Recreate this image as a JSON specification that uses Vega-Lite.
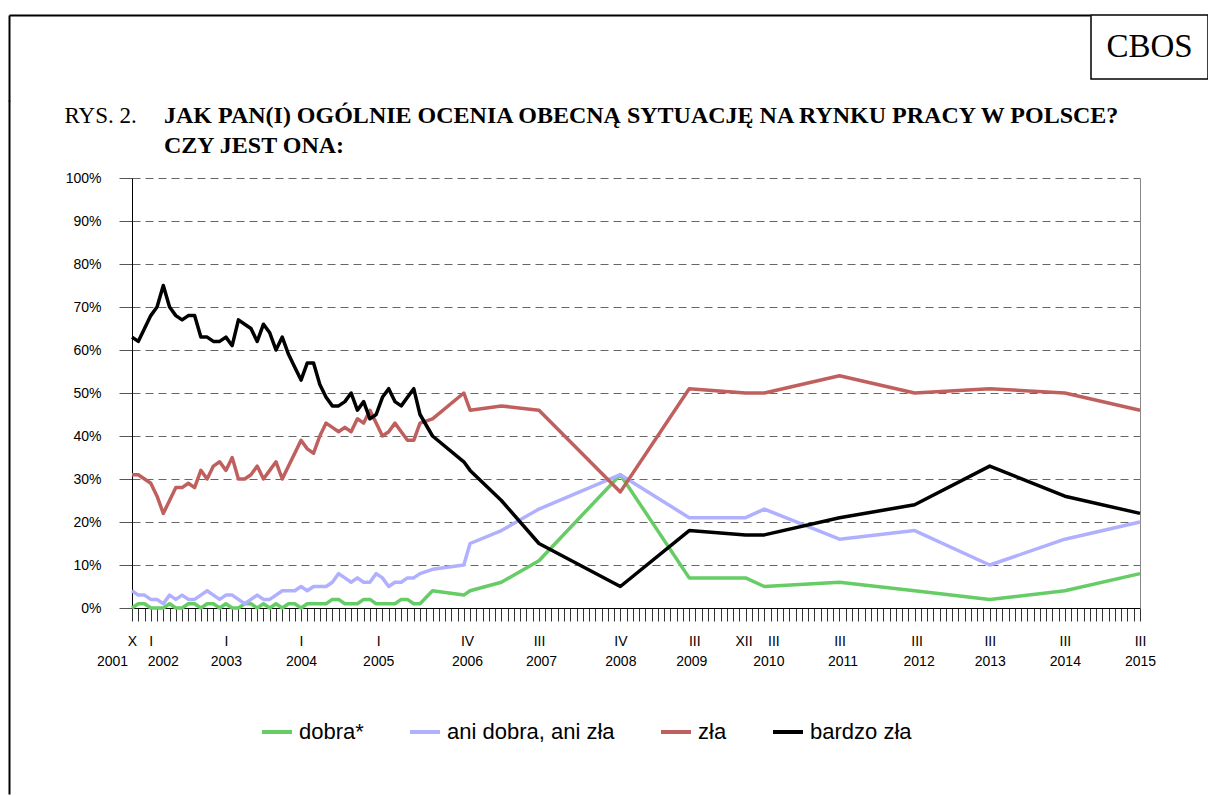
{
  "$schema": "https://vega.github.io/schema/vega-lite/v6.json",
  "padding": {"left": 6, "top": 14, "right": 0, "bottom": 0},
  "background": "white",
  "spacing": 0,
  "config": {
    "view": {"stroke": null},
    "font": "Liberation Sans",
    "axis": {"labelFont": "Liberation Sans", "labelFontSize": 14, "labelColor": "black", "minExtent": 0}
  },
  "vconcat": [
    {
      "spacing": 0,
      "hconcat": [
        {
          "width": 1081,
          "height": 86,
          "data": {"values": [{}]},
          "mark": {"type": "point", "opacity": 0},
          "encoding": {
            "x": {"datum": 0, "type": "quantitative", "scale": {"domain": [0, 1]},
              "axis": {"orient": "top", "domain": true, "domainColor": "black", "domainWidth": 2, "ticks": false, "labels": false, "grid": false, "title": null, "minExtent": 0}},
            "y": {"datum": 0, "type": "quantitative", "scale": {"domain": [0, 1]},
              "axis": {"orient": "left", "domain": true, "domainColor": "black", "domainWidth": 2, "ticks": false, "labels": false, "grid": false, "title": null, "minExtent": 0}}
          }
        },
        {
          "width": 117,
          "height": 64,
          "view": {"stroke": "black", "strokeWidth": 1.5},
          "data": {"values": [{"label": "CBOS"}]},
          "mark": {"type": "text", "font": "Liberation Serif", "fontSize": 33, "align": "center", "baseline": "middle", "color": "black"},
          "encoding": {"text": {"field": "label"}}
        }
      ]
    },
    {
      "spacing": 0,
      "hconcat": [
        {
          "width": 55,
          "height": 616,
          "data": {"values": [{}]},
          "mark": {"type": "point", "opacity": 0},
          "encoding": {
            "y": {"datum": 0, "type": "quantitative", "scale": {"domain": [0, 1], "range": [616, -78]},
              "axis": {"orient": "left", "domain": true, "domainColor": "black", "domainWidth": 2, "ticks": false, "labels": false, "grid": false, "title": null, "minExtent": 0}}
          }
        },
        {
          "width": 1008,
          "height": 430,
          "title": {
            "text": ["JAK PAN(I) OGÓLNIE OCENIA OBECNĄ SYTUACJĘ NA RYNKU PRACY W POLSCE?", "CZY JEST ONA:"],
            "anchor": "start",
            "frame": "group",
            "dx": 32,
            "offset": -54,
            "font": "Liberation Serif",
            "fontSize": 24,
            "fontWeight": "bold",
            "lineHeight": 30,
            "color": "black"
          },
          "data": {"values": [
            {"m":0,"series":"dobra*","pct":0},{"m":1,"series":"dobra*","pct":1},{"m":2,"series":"dobra*","pct":1},{"m":3,"series":"dobra*","pct":0},{"m":4,"series":"dobra*","pct":0},{"m":5,"series":"dobra*","pct":0},{"m":6,"series":"dobra*","pct":1},{"m":7,"series":"dobra*","pct":0},{"m":8,"series":"dobra*","pct":0},{"m":9,"series":"dobra*","pct":1},{"m":10,"series":"dobra*","pct":1},{"m":11,"series":"dobra*","pct":0},{"m":12,"series":"dobra*","pct":1},{"m":13,"series":"dobra*","pct":1},{"m":14,"series":"dobra*","pct":0},{"m":15,"series":"dobra*","pct":1},{"m":16,"series":"dobra*","pct":0},{"m":17,"series":"dobra*","pct":0},{"m":18,"series":"dobra*","pct":1},{"m":19,"series":"dobra*","pct":1},{"m":20,"series":"dobra*","pct":0},{"m":21,"series":"dobra*","pct":1},{"m":22,"series":"dobra*","pct":0},{"m":23,"series":"dobra*","pct":1},{"m":24,"series":"dobra*","pct":0},{"m":25,"series":"dobra*","pct":1},{"m":26,"series":"dobra*","pct":1},{"m":27,"series":"dobra*","pct":0},{"m":28,"series":"dobra*","pct":1},{"m":29,"series":"dobra*","pct":1},{"m":30,"series":"dobra*","pct":1},{"m":31,"series":"dobra*","pct":1},{"m":32,"series":"dobra*","pct":2},{"m":33,"series":"dobra*","pct":2},{"m":34,"series":"dobra*","pct":1},{"m":35,"series":"dobra*","pct":1},{"m":36,"series":"dobra*","pct":1},{"m":37,"series":"dobra*","pct":2},{"m":38,"series":"dobra*","pct":2},{"m":39,"series":"dobra*","pct":1},{"m":40,"series":"dobra*","pct":1},{"m":41,"series":"dobra*","pct":1},{"m":42,"series":"dobra*","pct":1},{"m":43,"series":"dobra*","pct":2},{"m":44,"series":"dobra*","pct":2},{"m":45,"series":"dobra*","pct":1},{"m":46,"series":"dobra*","pct":1},{"m":48,"series":"dobra*","pct":4},{"m":53,"series":"dobra*","pct":3},{"m":54,"series":"dobra*","pct":4},{"m":59,"series":"dobra*","pct":6},{"m":65,"series":"dobra*","pct":11},{"m":78,"series":"dobra*","pct":31},{"m":89,"series":"dobra*","pct":7},{"m":98,"series":"dobra*","pct":7},{"m":101,"series":"dobra*","pct":5},{"m":113,"series":"dobra*","pct":6},{"m":125,"series":"dobra*","pct":4},{"m":137,"series":"dobra*","pct":2},{"m":149,"series":"dobra*","pct":4},{"m":161,"series":"dobra*","pct":8},
            {"m":0,"series":"ani dobra, ani zła","pct":4},{"m":1,"series":"ani dobra, ani zła","pct":3},{"m":2,"series":"ani dobra, ani zła","pct":3},{"m":3,"series":"ani dobra, ani zła","pct":2},{"m":4,"series":"ani dobra, ani zła","pct":2},{"m":5,"series":"ani dobra, ani zła","pct":1},{"m":6,"series":"ani dobra, ani zła","pct":3},{"m":7,"series":"ani dobra, ani zła","pct":2},{"m":8,"series":"ani dobra, ani zła","pct":3},{"m":9,"series":"ani dobra, ani zła","pct":2},{"m":10,"series":"ani dobra, ani zła","pct":2},{"m":11,"series":"ani dobra, ani zła","pct":3},{"m":12,"series":"ani dobra, ani zła","pct":4},{"m":13,"series":"ani dobra, ani zła","pct":3},{"m":14,"series":"ani dobra, ani zła","pct":2},{"m":15,"series":"ani dobra, ani zła","pct":3},{"m":16,"series":"ani dobra, ani zła","pct":3},{"m":17,"series":"ani dobra, ani zła","pct":2},{"m":18,"series":"ani dobra, ani zła","pct":1},{"m":19,"series":"ani dobra, ani zła","pct":2},{"m":20,"series":"ani dobra, ani zła","pct":3},{"m":21,"series":"ani dobra, ani zła","pct":2},{"m":22,"series":"ani dobra, ani zła","pct":2},{"m":23,"series":"ani dobra, ani zła","pct":3},{"m":24,"series":"ani dobra, ani zła","pct":4},{"m":25,"series":"ani dobra, ani zła","pct":4},{"m":26,"series":"ani dobra, ani zła","pct":4},{"m":27,"series":"ani dobra, ani zła","pct":5},{"m":28,"series":"ani dobra, ani zła","pct":4},{"m":29,"series":"ani dobra, ani zła","pct":5},{"m":30,"series":"ani dobra, ani zła","pct":5},{"m":31,"series":"ani dobra, ani zła","pct":5},{"m":32,"series":"ani dobra, ani zła","pct":6},{"m":33,"series":"ani dobra, ani zła","pct":8},{"m":34,"series":"ani dobra, ani zła","pct":7},{"m":35,"series":"ani dobra, ani zła","pct":6},{"m":36,"series":"ani dobra, ani zła","pct":7},{"m":37,"series":"ani dobra, ani zła","pct":6},{"m":38,"series":"ani dobra, ani zła","pct":6},{"m":39,"series":"ani dobra, ani zła","pct":8},{"m":40,"series":"ani dobra, ani zła","pct":7},{"m":41,"series":"ani dobra, ani zła","pct":5},{"m":42,"series":"ani dobra, ani zła","pct":6},{"m":43,"series":"ani dobra, ani zła","pct":6},{"m":44,"series":"ani dobra, ani zła","pct":7},{"m":45,"series":"ani dobra, ani zła","pct":7},{"m":46,"series":"ani dobra, ani zła","pct":8},{"m":48,"series":"ani dobra, ani zła","pct":9},{"m":53,"series":"ani dobra, ani zła","pct":10},{"m":54,"series":"ani dobra, ani zła","pct":15},{"m":59,"series":"ani dobra, ani zła","pct":18},{"m":65,"series":"ani dobra, ani zła","pct":23},{"m":78,"series":"ani dobra, ani zła","pct":31},{"m":89,"series":"ani dobra, ani zła","pct":21},{"m":98,"series":"ani dobra, ani zła","pct":21},{"m":101,"series":"ani dobra, ani zła","pct":23},{"m":113,"series":"ani dobra, ani zła","pct":16},{"m":125,"series":"ani dobra, ani zła","pct":18},{"m":137,"series":"ani dobra, ani zła","pct":10},{"m":149,"series":"ani dobra, ani zła","pct":16},{"m":161,"series":"ani dobra, ani zła","pct":20},
            {"m":0,"series":"zła","pct":31},{"m":1,"series":"zła","pct":31},{"m":2,"series":"zła","pct":30},{"m":3,"series":"zła","pct":29},{"m":4,"series":"zła","pct":26},{"m":5,"series":"zła","pct":22},{"m":6,"series":"zła","pct":25},{"m":7,"series":"zła","pct":28},{"m":8,"series":"zła","pct":28},{"m":9,"series":"zła","pct":29},{"m":10,"series":"zła","pct":28},{"m":11,"series":"zła","pct":32},{"m":12,"series":"zła","pct":30},{"m":13,"series":"zła","pct":33},{"m":14,"series":"zła","pct":34},{"m":15,"series":"zła","pct":32},{"m":16,"series":"zła","pct":35},{"m":17,"series":"zła","pct":30},{"m":18,"series":"zła","pct":30},{"m":19,"series":"zła","pct":31},{"m":20,"series":"zła","pct":33},{"m":21,"series":"zła","pct":30},{"m":22,"series":"zła","pct":32},{"m":23,"series":"zła","pct":34},{"m":24,"series":"zła","pct":30},{"m":25,"series":"zła","pct":33},{"m":26,"series":"zła","pct":36},{"m":27,"series":"zła","pct":39},{"m":28,"series":"zła","pct":37},{"m":29,"series":"zła","pct":36},{"m":30,"series":"zła","pct":40},{"m":31,"series":"zła","pct":43},{"m":32,"series":"zła","pct":42},{"m":33,"series":"zła","pct":41},{"m":34,"series":"zła","pct":42},{"m":35,"series":"zła","pct":41},{"m":36,"series":"zła","pct":44},{"m":37,"series":"zła","pct":43},{"m":38,"series":"zła","pct":46},{"m":39,"series":"zła","pct":43},{"m":40,"series":"zła","pct":40},{"m":41,"series":"zła","pct":41},{"m":42,"series":"zła","pct":43},{"m":43,"series":"zła","pct":41},{"m":44,"series":"zła","pct":39},{"m":45,"series":"zła","pct":39},{"m":46,"series":"zła","pct":43},{"m":48,"series":"zła","pct":44},{"m":53,"series":"zła","pct":50},{"m":54,"series":"zła","pct":46},{"m":59,"series":"zła","pct":47},{"m":65,"series":"zła","pct":46},{"m":78,"series":"zła","pct":27},{"m":89,"series":"zła","pct":51},{"m":98,"series":"zła","pct":50},{"m":101,"series":"zła","pct":50},{"m":113,"series":"zła","pct":54},{"m":125,"series":"zła","pct":50},{"m":137,"series":"zła","pct":51},{"m":149,"series":"zła","pct":50},{"m":161,"series":"zła","pct":46},
            {"m":0,"series":"bardzo zła","pct":63},{"m":1,"series":"bardzo zła","pct":62},{"m":2,"series":"bardzo zła","pct":65},{"m":3,"series":"bardzo zła","pct":68},{"m":4,"series":"bardzo zła","pct":70},{"m":5,"series":"bardzo zła","pct":75},{"m":6,"series":"bardzo zła","pct":70},{"m":7,"series":"bardzo zła","pct":68},{"m":8,"series":"bardzo zła","pct":67},{"m":9,"series":"bardzo zła","pct":68},{"m":10,"series":"bardzo zła","pct":68},{"m":11,"series":"bardzo zła","pct":63},{"m":12,"series":"bardzo zła","pct":63},{"m":13,"series":"bardzo zła","pct":62},{"m":14,"series":"bardzo zła","pct":62},{"m":15,"series":"bardzo zła","pct":63},{"m":16,"series":"bardzo zła","pct":61},{"m":17,"series":"bardzo zła","pct":67},{"m":18,"series":"bardzo zła","pct":66},{"m":19,"series":"bardzo zła","pct":65},{"m":20,"series":"bardzo zła","pct":62},{"m":21,"series":"bardzo zła","pct":66},{"m":22,"series":"bardzo zła","pct":64},{"m":23,"series":"bardzo zła","pct":60},{"m":24,"series":"bardzo zła","pct":63},{"m":25,"series":"bardzo zła","pct":59},{"m":26,"series":"bardzo zła","pct":56},{"m":27,"series":"bardzo zła","pct":53},{"m":28,"series":"bardzo zła","pct":57},{"m":29,"series":"bardzo zła","pct":57},{"m":30,"series":"bardzo zła","pct":52},{"m":31,"series":"bardzo zła","pct":49},{"m":32,"series":"bardzo zła","pct":47},{"m":33,"series":"bardzo zła","pct":47},{"m":34,"series":"bardzo zła","pct":48},{"m":35,"series":"bardzo zła","pct":50},{"m":36,"series":"bardzo zła","pct":46},{"m":37,"series":"bardzo zła","pct":48},{"m":38,"series":"bardzo zła","pct":44},{"m":39,"series":"bardzo zła","pct":45},{"m":40,"series":"bardzo zła","pct":49},{"m":41,"series":"bardzo zła","pct":51},{"m":42,"series":"bardzo zła","pct":48},{"m":43,"series":"bardzo zła","pct":47},{"m":44,"series":"bardzo zła","pct":49},{"m":45,"series":"bardzo zła","pct":51},{"m":46,"series":"bardzo zła","pct":45},{"m":48,"series":"bardzo zła","pct":40},{"m":53,"series":"bardzo zła","pct":34},{"m":54,"series":"bardzo zła","pct":32},{"m":59,"series":"bardzo zła","pct":25},{"m":65,"series":"bardzo zła","pct":15},{"m":78,"series":"bardzo zła","pct":5},{"m":89,"series":"bardzo zła","pct":18},{"m":98,"series":"bardzo zła","pct":17},{"m":101,"series":"bardzo zła","pct":17},{"m":113,"series":"bardzo zła","pct":21},{"m":125,"series":"bardzo zła","pct":24},{"m":137,"series":"bardzo zła","pct":33},{"m":149,"series":"bardzo zła","pct":26},{"m":161,"series":"bardzo zła","pct":22}
          ]},
          "layer": [
            {
              "mark": {"type": "line", "strokeWidth": 3.5, "strokeJoin": "round"},
              "encoding": {
                "x": {
                  "field": "m", "type": "quantitative",
                  "scale": {"domain": [0, 161], "nice": false, "zero": false},
                  "axis": {
                    "title": null, "grid": false,
                    "domainColor": "black", "domainWidth": 1,
                    "tickColor": "#333", "tickSize": 13, "tickWidth": 1,
                    "labelPadding": 13, "labelOverlap": false, "labelFlush": false, "labelBound": false,
                    "values": [0,1,2,3,4,5,6,7,8,9,10,11,12,13,14,15,16,17,18,19,20,21,22,23,24,25,26,27,28,29,30,31,32,33,34,35,36,37,38,39,40,41,42,43,44,45,46,47,48,49,50,51,52,53,54,55,56,57,58,59,60,61,62,63,64,65,66,67,68,69,70,71,72,73,74,75,76,77,78,79,80,81,82,83,84,85,86,87,88,89,90,91,92,93,94,95,96,97,98,99,100,101,102,103,104,105,106,107,108,109,110,111,112,113,114,115,116,117,118,119,120,121,122,123,124,125,126,127,128,129,130,131,132,133,134,135,136,137,138,139,140,141,142,143,144,145,146,147,148,149,150,151,152,153,154,155,156,157,158,159,160,161],
                    "labelExpr": "indexof([0,3,15,27,39,54,65,78,89,98,101,113,125,137,149,161], datum.value) >= 0 ? ['I','II','III','IV','V','VI','VII','VIII','IX','X','XI','XII'][(datum.value + 9) % 12] : ''",
                    "labelOffset": {
                      "condition": [
                        {"test": "datum.value == 54", "value": -3},
                        {"test": "datum.value == 89", "value": 5},
                        {"test": "datum.value == 98", "value": -2},
                        {"test": "datum.value == 101", "value": 9},
                        {"test": "datum.value == 39", "value": 2},
                        {"test": "datum.value == 125", "value": 2}
                      ],
                      "value": 0
                    }
                  }
                },
                "y": {
                  "field": "pct", "type": "quantitative",
                  "scale": {"domain": [0, 100], "nice": false},
                  "axis": {
                    "values": [0,10,20,30,40,50,60,70,80,90,100],
                    "labelExpr": "datum.value + '%'",
                    "domainColor": "black", "domainWidth": 1,
                    "tickColor": "#555", "tickSize": 13, "tickWidth": 1,
                    "labelPadding": 18,
                    "grid": true, "gridColor": "#666", "gridDash": [8, 5], "gridWidth": 1,
                    "title": "RYS. 2.",
                    "titleAngle": 0, "titleAlign": "left", "titleBaseline": "middle",
                    "titleX": -68, "titleY": -63,
                    "titleFont": "Liberation Serif", "titleFontSize": 23, "titleFontWeight": "normal", "titleColor": "black"
                  }
                },
                "color": {
                  "field": "series", "type": "nominal",
                  "scale": {"domain": ["dobra*", "ani dobra, ani zła", "zła", "bardzo zła"], "range": ["#66CC66", "#B0B0FF", "#C0605E", "#000000"]},
                  "legend": {
                    "orient": "none", "legendX": 251, "legendY": 700,
                    "direction": "horizontal", "title": null,
                    "symbolType": "stroke", "symbolSize": 900, "symbolStrokeWidth": 4,
                    "labelFont": "Liberation Sans", "labelFontSize": 22, "labelColor": "black",
                    "labelOffset": 5, "columnPadding": 38, "padding": 0, "labelLimit": 400
                  }
                }
              }
            },
            {
              "data": {"values": [{}]},
              "mark": {"type": "rule", "opacity": 0},
              "encoding": {
                "y": {"datum": 0, "type": "quantitative", "scale": {"domain": [0, 100], "nice": false},
                  "axis": {"orient": "right", "domain": true, "domainColor": "#888", "domainWidth": 1, "ticks": false, "labels": false, "grid": false, "title": null}}
              }
            },
            {
              "data": {"values": [{}]},
              "mark": {"type": "rule", "opacity": 0},
              "encoding": {
                "x": {"datum": 0, "type": "quantitative", "scale": {"domain": [0, 161], "nice": false, "zero": false},
                  "axis": {
                    "orient": "bottom", "domain": false, "ticks": false, "tickSize": 0, "grid": false, "title": null,
                    "labelPadding": 46, "labelOverlap": false, "labelFlush": false, "labelBound": false,
                    "values": [0,3,15,27,39,54,65,78,89,101,113,125,137,149,161],
                    "labelExpr": "toString(2001 + floor((datum.value + 9) / 12))",
                    "labelOffset": {
                      "condition": [
                        {"test": "datum.value == 0", "value": -20},
                        {"test": "datum.value == 3", "value": 12},
                        {"test": "datum.value == 54", "value": -3},
                        {"test": "datum.value == 65", "value": 2},
                        {"test": "datum.value == 89", "value": 2},
                        {"test": "datum.value == 101", "value": 4},
                        {"test": "datum.value == 113", "value": 3},
                        {"test": "datum.value == 125", "value": 4},
                        {"test": "datum.value == 39", "value": 2}
                      ],
                      "value": 0
                    }
                  }
                }
              }
            }
          ],
          "resolve": {"axis": {"y": "independent", "x": "independent"}}
        }
      ]
    }
  ]
}
